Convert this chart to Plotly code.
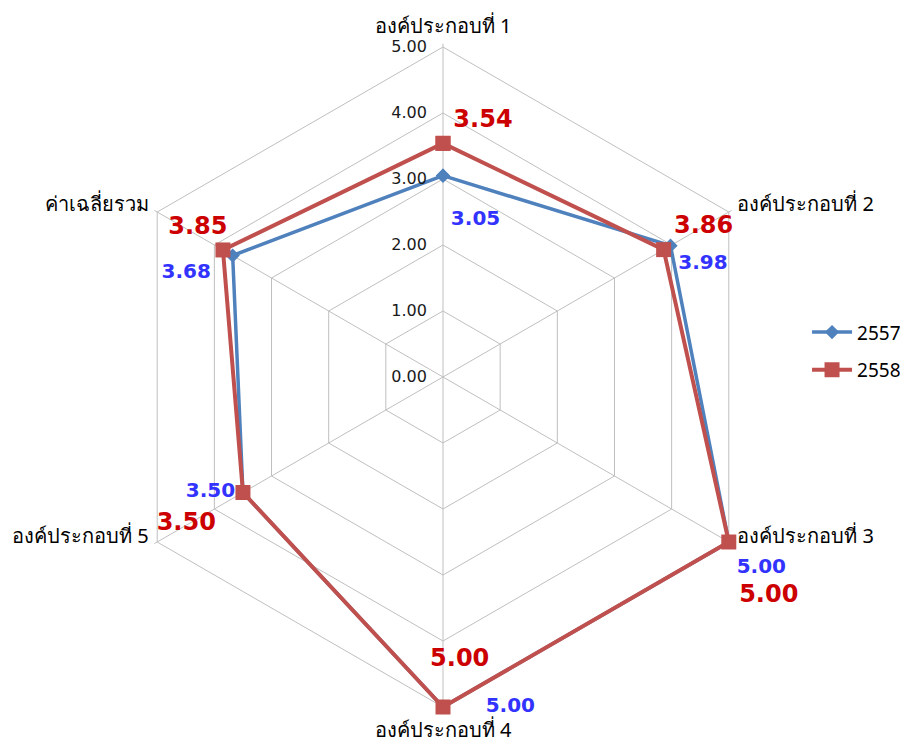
import plotly.graph_objects as go

categories = ["องค์ประกอบที่ 1", "องค์ประกอบที่ 2", "องค์ประกอบที่ 3",
              "องค์ประกอบที่ 4", "องค์ประกอบที่ 5", "ค่าเฉลี่ยรวม"]
values_2557 = [3.05, 3.98, 5.00, 5.00, 3.50, 3.68]
values_2558 = [3.54, 3.86, 5.00, 5.00, 3.50, 3.85]
radial_ticks = [0, 1, 2, 3, 4, 5]

SP = "&nbsp;"
NB = "&nbsp;"

lab_2557 = [f"{v:.2f}" for v in values_2557]
lab_2558 = [f"{v:.2f}" for v in values_2558]

text_2557 = [SP + "<br>" + lab_2557[0],
             lab_2557[1],
             SP + "<br>" + SP + "<br>" + lab_2557[2],
             NB * 5 + lab_2557[3],
             lab_2557[4],
             lab_2557[5] + NB * 2]
pos_2557 = ["bottom right", "bottom right", "middle right", "middle right", "middle left", "bottom left"]

text_2558 = [lab_2558[0],
             lab_2558[1],
             SP + "<br>" + lab_2558[2],
             NB * 4 + lab_2558[3] + "<br>" + SP + "<br>" + SP + "<br>" + SP,
             SP + "<br>" + SP + "<br>" + lab_2558[4] + NB * 2,
             lab_2558[5] + NB * 6]
pos_2558 = ["top right", "top right", "bottom right", "middle center", "middle left", "top center"]

# category tick labels (side ones lifted with empty extra lines)
LIFT = ("<br>" + SP) * 3
cat_ticktext = [categories[0], categories[1],
                categories[2] + LIFT,
                categories[3],
                categories[4] + LIFT,
                categories[5]]

W, H = 908, 743
cx, cy = 435, 369
RMAX = 5.05
R = 330 * RMAX / 5

fig = go.Figure()
fig.add_trace(go.Scatterpolar(
    r=values_2557 + values_2557[:1], theta=categories + categories[:1],
    mode="lines+markers+text", name="2557", legendgroup="a",
    text=text_2557 + [""], textposition=pos_2557 + ["top center"],
    textfont=dict(family="DejaVu Sans", size=20, color="#3333FF", weight="bold"),
    line=dict(color="#4F81BD", width=3.5),
    marker=dict(symbol="diamond", size=11, color="#4F81BD"),
    cliponaxis=False,
))
fig.add_trace(go.Scatterpolar(
    r=values_2558 + values_2558[:1], theta=categories + categories[:1],
    mode="lines+markers+text", name="2558", legendgroup="b",
    text=text_2558 + [""], textposition=pos_2558 + ["top center"],
    textfont=dict(family="DejaVu Sans", size=24, color="#CC0000", weight="bold"),
    line=dict(color="#C0504D", width=4),
    marker=dict(symbol="square", size=15, color="#C0504D"),
    cliponaxis=False,
))

fig.update_layout(
    width=W, height=H,
    margin=dict(l=0, r=0, t=0, b=0),
    paper_bgcolor="white", plot_bgcolor="white",
    font=dict(family="Noto Sans, DejaVu Sans", size=18, color="#000000"),
    polar=dict(
        domain=dict(x=[(cx - R) / W, (cx + R) / W],
                    y=[(H - cy - R) / H, (H - cy + R) / H]),
        bgcolor="white",
        gridshape="linear",
        radialaxis=dict(range=[0, RMAX], tickvals=radial_ticks,
                        ticktext=[f"{v:.2f}" for v in radial_ticks],
                        angle=90, tickangle=90, side="counterclockwise",
                        showline=False, ticks="outside", ticklen=10,
                        tickcolor="rgba(0,0,0,0)",
                        gridcolor="#BFBFBF", gridwidth=1,
                        tickfont=dict(family="DejaVu Sans", size=16, color="#1a1a1a")),
        angularaxis=dict(direction="clockwise", rotation=90,
                         showline=False, type="category",
                         tickmode="array", tickvals=categories, ticktext=cat_ticktext,
                         gridcolor="#BFBFBF", gridwidth=1,
                         ticks="outside", ticklen=2, tickcolor="rgba(0,0,0,0)",
                         tickfont=dict(size=20, color="#000000")),
    ),
    legend=dict(x=0.88, y=0.538, yanchor="middle", xanchor="left",
                font=dict(size=19), tracegroupgap=10, itemwidth=40),
    showlegend=True,
)

fig.write_html("out.html")
